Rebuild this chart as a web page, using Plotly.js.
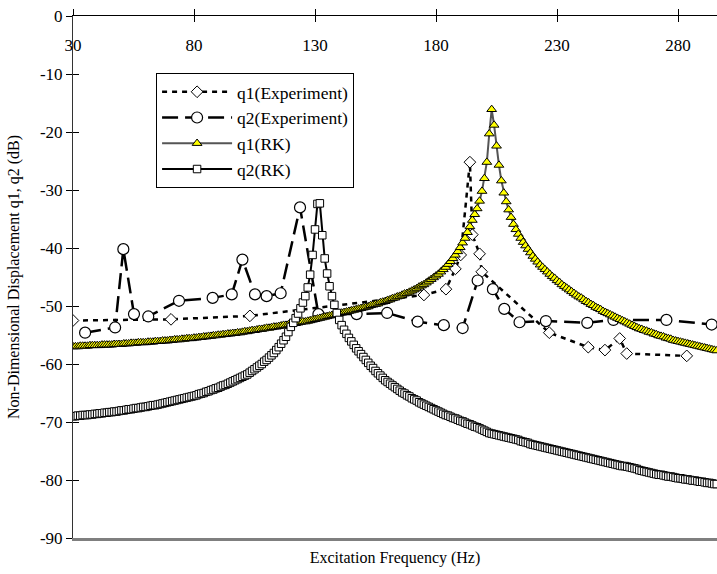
<!DOCTYPE html>
<html>
<head>
<meta charset="utf-8">
<script src="https://cdn.plot.ly/plotly-3.0.1.min.js"></script>
<style>
  html, body { margin: 0; padding: 0; background: #fff; }
  #chart { width: 717px; height: 574px; }
</style>
</head>
<body>
<div id="chart"></div>
<script>
// Measured response, mode 1 (diamonds)
const q1ExpFreq = [30, 70.5, 103.1, 175.0, 184.1, 188.0, 190.2, 194.0, 195.0, 198.0, 198.9,
                   226.8, 242.9, 249.8, 255.9, 258.8, 283.6];
const q1ExpDb   = [-52.5, -52.3, -51.7, -48.1, -47.1, -43.6, -41.2, -25.2, -37.7, -41.0, -44.1,
                   -54.6, -57.1, -57.6, -55.6, -58.2, -58.6];

// Measured response, mode 2 (circles)
const q2ExpFreq = [35.0, 47.4, 50.8, 55.2, 61.1, 73.8, 87.7, 95.6, 100.0, 105.2, 110.0, 115.8,
                   123.8, 131.4, 147.2, 159.8, 172.4, 183.2, 191.0, 197.2, 203.5, 208.2, 214.5,
                   225.4, 242.5, 253.3, 275.2, 293.9];
const q2ExpDb   = [-54.6, -53.7, -40.2, -51.4, -51.8, -49.1, -48.6, -48.0, -42.0, -48.0, -48.3, -47.8,
                   -33.0, -51.4, -51.4, -51.2, -52.7, -53.3, -53.8, -45.6, -47.1, -50.5, -52.8,
                   -52.6, -52.9, -52.4, -52.4, -53.2];

// Runge-Kutta frequency sweep, 1 Hz steps
const rkFreq = [
  30, 31, 32, 33, 34, 35, 36, 37, 38, 39,
  40, 41, 42, 43, 44, 45, 46, 47, 48, 49,
  50, 51, 52, 53, 54, 55, 56, 57, 58, 59,
  60, 61, 62, 63, 64, 65, 66, 67, 68, 69,
  70, 71, 72, 73, 74, 75, 76, 77, 78, 79,
  80, 81, 82, 83, 84, 85, 86, 87, 88, 89,
  90, 91, 92, 93, 94, 95, 96, 97, 98, 99,
  100, 101, 102, 103, 104, 105, 106, 107, 108, 109,
  110, 111, 112, 113, 114, 115, 116, 117, 118, 119,
  120, 121, 122, 123, 124, 125, 126, 127, 128, 129,
  130, 131, 132, 133, 134, 135, 136, 137, 138, 139,
  140, 141, 142, 143, 144, 145, 146, 147, 148, 149,
  150, 151, 152, 153, 154, 155, 156, 157, 158, 159,
  160, 161, 162, 163, 164, 165, 166, 167, 168, 169,
  170, 171, 172, 173, 174, 175, 176, 177, 178, 179,
  180, 181, 182, 183, 184, 185, 186, 187, 188, 189,
  190, 191, 192, 193, 194, 195, 196, 197, 198, 199,
  200, 201, 202, 203, 204, 205, 206, 207, 208, 209,
  210, 211, 212, 213, 214, 215, 216, 217, 218, 219,
  220, 221, 222, 223, 224, 225, 226, 227, 228, 229,
  230, 231, 232, 233, 234, 235, 236, 237, 238, 239,
  240, 241, 242, 243, 244, 245, 246, 247, 248, 249,
  250, 251, 252, 253, 254, 255, 256, 257, 258, 259,
  260, 261, 262, 263, 264, 265, 266, 267, 268, 269,
  270, 271, 272, 273, 274, 275, 276, 277, 278, 279,
  280, 281, 282, 283, 284, 285, 286, 287, 288, 289,
  290, 291, 292, 293, 294, 295, 296
];

const q1RkDb = [
  -57.0,-57.0,-57.0,-56.9,-56.9,-56.9,-56.9,-56.8,-56.8,-56.8,
  -56.8,-56.8,-56.7,-56.7,-56.7,-56.7,-56.7,-56.6,-56.6,-56.6,
  -56.6,-56.5,-56.5,-56.5,-56.4,-56.4,-56.4,-56.3,-56.3,-56.3,
  -56.3,-56.2,-56.2,-56.2,-56.1,-56.1,-56.1,-56.0,-56.0,-56.0,
  -55.9,-55.9,-55.8,-55.8,-55.8,-55.7,-55.7,-55.6,-55.6,-55.6,
  -55.5,-55.5,-55.4,-55.4,-55.3,-55.3,-55.2,-55.2,-55.1,-55.1,
  -55.0,-55.0,-54.9,-54.9,-54.8,-54.8,-54.7,-54.7,-54.6,-54.6,
  -54.5,-54.4,-54.4,-54.3,-54.2,-54.2,-54.1,-54.0,-54.0,-53.9,
  -53.8,-53.8,-53.7,-53.6,-53.6,-53.5,-53.4,-53.3,-53.3,-53.2,
  -53.1,-53.0,-53.0,-52.9,-52.8,-52.7,-52.7,-52.6,-52.5,-52.4,
  -52.3,-52.2,-52.1,-52.0,-51.9,-51.8,-51.7,-51.6,-51.5,-51.4,
  -51.3,-51.2,-51.1,-51.0,-50.9,-50.8,-50.7,-50.6,-50.5,-50.4,
  -50.3,-50.2,-50.1,-49.9,-49.8,-49.7,-49.6,-49.4,-49.3,-49.2,
  -49.0,-48.9,-48.7,-48.6,-48.4,-48.3,-48.1,-47.9,-47.8,-47.6,
  -47.4,-47.2,-47.0,-46.7,-46.5,-46.3,-46.0,-45.7,-45.4,-45.1,
  -44.8,-44.5,-44.1,-43.7,-43.3,-42.8,-42.3,-41.8,-41.2,-40.6,
  -39.9,-39.1,-38.3,-37.3,-36.3,-35.2,-34.2,-33.2,-31.9,-30.2,
  -28.0,-25.2,-20.3,-16.1,-18.8,-22.4,-25.7,-28.4,-30.5,-32.0,
  -33.4,-34.7,-35.9,-36.8,-37.6,-38.3,-39.0,-39.6,-40.2,-40.8,
  -41.4,-41.9,-42.4,-42.9,-43.3,-43.7,-44.1,-44.5,-44.9,-45.2,
  -45.6,-45.9,-46.3,-46.6,-46.9,-47.2,-47.5,-47.8,-48.1,-48.4,
  -48.6,-48.9,-49.2,-49.4,-49.7,-49.9,-50.2,-50.4,-50.6,-50.9,
  -51.1,-51.3,-51.5,-51.7,-51.9,-52.1,-52.3,-52.5,-52.7,-52.9,
  -53.1,-53.3,-53.5,-53.7,-53.9,-54.0,-54.2,-54.3,-54.5,-54.6,
  -54.8,-54.9,-55.1,-55.2,-55.3,-55.5,-55.6,-55.7,-55.9,-56.0,
  -56.1,-56.2,-56.3,-56.4,-56.5,-56.6,-56.7,-56.8,-56.9,-57.0,
  -57.1,-57.2,-57.3,-57.4,-57.5,-57.6,-57.7
];

const q2RkDb = [
  -69.0,-69.0,-68.9,-68.9,-68.8,-68.8,-68.8,-68.7,-68.7,-68.6,
  -68.6,-68.5,-68.5,-68.4,-68.4,-68.3,-68.3,-68.2,-68.2,-68.1,
  -68.0,-68.0,-67.9,-67.8,-67.8,-67.7,-67.6,-67.6,-67.5,-67.4,
  -67.4,-67.3,-67.2,-67.1,-67.1,-67.0,-66.9,-66.8,-66.7,-66.6,
  -66.5,-66.4,-66.3,-66.2,-66.1,-66.0,-65.9,-65.8,-65.7,-65.6,
  -65.5,-65.4,-65.2,-65.1,-65.0,-64.8,-64.7,-64.5,-64.4,-64.2,
  -64.1,-63.9,-63.7,-63.6,-63.4,-63.2,-63.0,-62.8,-62.6,-62.4,
  -62.2,-62.0,-61.8,-61.5,-61.2,-60.9,-60.6,-60.3,-60.0,-59.6,
  -59.3,-58.9,-58.5,-58.1,-57.6,-57.1,-56.5,-55.9,-55.3,-54.5,
  -53.6,-52.9,-52.1,-51.3,-50.4,-49.4,-48.3,-46.8,-44.6,-41.2,
  -36.8,-32.4,-32.3,-37.8,-41.8,-44.4,-46.6,-48.3,-49.8,-51.2,
  -52.4,-53.3,-54.1,-54.8,-55.5,-56.1,-56.7,-57.3,-57.8,-58.3,
  -58.8,-59.3,-59.8,-60.3,-60.7,-61.2,-61.6,-62.0,-62.4,-62.8,
  -63.1,-63.4,-63.7,-64.0,-64.3,-64.6,-64.9,-65.1,-65.4,-65.6,
  -65.9,-66.1,-66.3,-66.6,-66.8,-67.0,-67.2,-67.4,-67.6,-67.8,
  -68.0,-68.2,-68.4,-68.6,-68.8,-68.9,-69.1,-69.3,-69.4,-69.6,
  -69.8,-69.9,-70.1,-70.3,-70.4,-70.6,-70.8,-70.9,-71.1,-71.3,
  -71.5,-71.7,-71.9,-72.0,-72.1,-72.2,-72.3,-72.4,-72.5,-72.6,
  -72.7,-72.8,-72.9,-73.0,-73.1,-73.3,-73.4,-73.5,-73.6,-73.8,
  -73.9,-74.0,-74.1,-74.2,-74.3,-74.4,-74.5,-74.6,-74.7,-74.8,
  -74.9,-75.0,-75.1,-75.2,-75.3,-75.4,-75.5,-75.6,-75.7,-75.8,
  -75.9,-76.0,-76.1,-76.2,-76.3,-76.4,-76.5,-76.6,-76.7,-76.8,
  -76.9,-77.0,-77.1,-77.2,-77.3,-77.4,-77.5,-77.6,-77.6,-77.7,
  -77.8,-77.9,-78.0,-78.1,-78.3,-78.4,-78.5,-78.6,-78.7,-78.8,
  -78.9,-79.0,-79.1,-79.1,-79.2,-79.3,-79.4,-79.4,-79.5,-79.6,
  -79.7,-79.7,-79.8,-79.9,-79.9,-80.0,-80.1,-80.1,-80.2,-80.3,
  -80.3,-80.4,-80.5,-80.5,-80.6,-80.7,-80.7
];

const xTickVals = [30, 80, 130, 180, 230, 280];
const yTickVals = [0, -10, -20, -30, -40, -50, -60, -70, -80, -90];

const serif = '"Liberation Serif", "Times New Roman", Times, serif';
const xRange = [30, 296.1];
const yRange = [-90, 0];

const traces = [
  {
    name: 'q1(Experiment)', x: q1ExpFreq, y: q1ExpDb, type: 'scatter', mode: 'lines+markers',
    legendgroup: 'a',
    line: { color: '#000', width: 2.5, dash: '5px,5px' },
    marker: { symbol: 'diamond', size: 9, color: '#fff', line: { color: '#000', width: 1 } }
  },
  {
    name: 'q2(Experiment)', x: q2ExpFreq, y: q2ExpDb, type: 'scatter', mode: 'lines+markers',
    legendgroup: 'b',
    line: { color: '#000', width: 2.5, dash: '16px,7px' },
    marker: { symbol: 'circle', size: 11, color: '#fff', line: { color: '#000', width: 1.2 } }
  },
  {
    name: 'q1(RK)', x: rkFreq, y: q1RkDb, type: 'scatter', mode: 'lines+markers',
    legendgroup: 'c',
    line: { color: '#555', width: 2 },
    marker: { symbol: 'triangle-up', size: 8.5, color: '#ffff00', line: { color: '#000', width: 1 } }
  },
  {
    name: 'q2(RK)', x: rkFreq, y: q2RkDb, type: 'scatter', mode: 'lines+markers',
    legendgroup: 'd',
    line: { color: '#000', width: 2 },
    marker: { symbol: 'square', size: 7.5, color: '#fff', line: { color: '#000', width: 1 } }
  },
  // carriers for the extra axis layers (cross ticks and bottom frame line)
  { x: [], y: [], xaxis: 'x2', yaxis: 'y', showlegend: false, hoverinfo: 'skip' },
  { x: [], y: [], xaxis: 'x3', yaxis: 'y', showlegend: false, hoverinfo: 'skip' },
  { x: [], y: [], xaxis: 'x', yaxis: 'y2', showlegend: false, hoverinfo: 'skip' }
];

const layout = {
  width: 717,
  height: 574,
  margin: { l: 73, r: 0, t: 16, b: 36, pad: 0 },
  paper_bgcolor: '#fff',
  plot_bgcolor: '#fff',
  font: { family: serif, size: 17, color: '#000' },
  showlegend: true,
  legend: {
    x: 0.129, y: 0.891, xanchor: 'left', yanchor: 'top',
    bgcolor: '#fff', bordercolor: '#000', borderwidth: 1,
    font: { family: serif, size: 17.5, color: '#000' },
    itemwidth: 70, tracegroupgap: 7, traceorder: 'normal'
  },
  xaxis: {
    range: xRange, side: 'top', anchor: 'y',
    tickmode: 'array', tickvals: xTickVals, ticktext: xTickVals.map(String),
    showline: true, linecolor: '#000', linewidth: 1,
    ticks: 'inside', ticklen: 6, tickwidth: 1, tickcolor: '#000',
    ticklabelposition: 'inside', ticklabeloverflow: 'allow', ticklabelstandoff: 18,
    tickfont: { family: serif, size: 17, color: '#000' },
    showgrid: false, zeroline: false
  },
  xaxis2: {
    range: xRange, side: 'top', overlaying: 'x', anchor: 'y',
    tickmode: 'array', tickvals: xTickVals,
    ticks: 'outside', ticklen: 6, tickwidth: 1, tickcolor: '#000',
    showticklabels: false, showline: false, showgrid: false, zeroline: false
  },
  xaxis3: {
    range: xRange, side: 'bottom', overlaying: 'x', anchor: 'y',
    showline: true, linecolor: '#7f7f7f', linewidth: 3,
    ticks: '', showticklabels: false, showgrid: false, zeroline: false,
    automargin: true,
    title: { text: 'Excitation Frequency (Hz)', standoff: 12, font: { family: serif, size: 16, color: '#000' } }
  },
  yaxis: {
    range: yRange, anchor: 'x',
    tickmode: 'array', tickvals: yTickVals, ticktext: yTickVals.map(String),
    showline: true, linecolor: '#333', linewidth: 1,
    ticks: 'outside', ticklen: 6, tickwidth: 1, tickcolor: '#000',
    tickfont: { family: serif, size: 17, color: '#000' },
    showgrid: false, zeroline: false, automargin: true,
    title: { text: 'Non-Dimensional Displacement q1, q2 (dB)', standoff: 16, font: { family: serif, size: 16, color: '#000' } }
  },
  yaxis2: {
    range: yRange, overlaying: 'y', side: 'left', anchor: 'x',
    tickmode: 'array', tickvals: yTickVals,
    ticks: 'inside', ticklen: 6, tickwidth: 1, tickcolor: '#000',
    showticklabels: false, showline: false, showgrid: false, zeroline: false
  }
};

Plotly.newPlot('chart', traces, layout, { staticPlot: true, displayModeBar: false });
</script>
</body>
</html>
